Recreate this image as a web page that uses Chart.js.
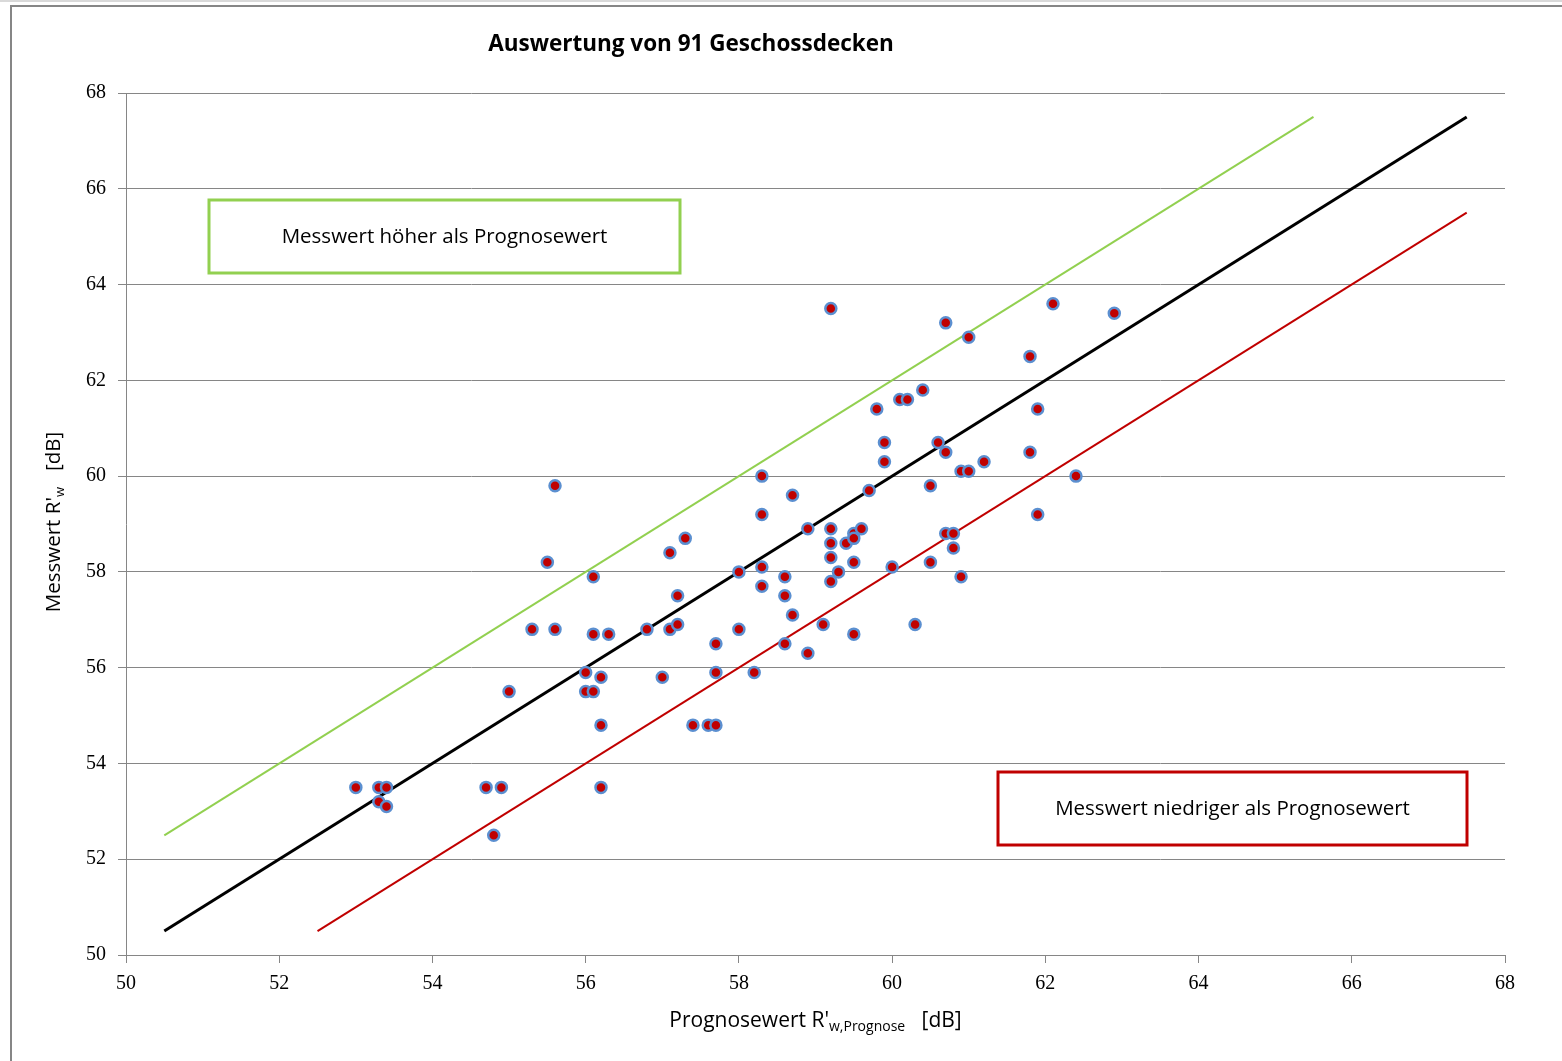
<!DOCTYPE html>
<html>
<head>
<meta charset="utf-8">
<script src="https://cdn.jsdelivr.net/npm/chart.js@4"></script>
<style>
  body { margin: 0; background: #fff; }
  canvas { display: block; }
</style>
</head>
<body>
<canvas id="myChart" width="1562" height="1061"></canvas>
<script>
// Prognosewert (x) und Messwert (y) je Decke
const prognose = [
  53.0, 53.3, 53.4, 53.3, 53.4, 54.7, 54.9, 54.8, 55.0, 55.3,
  55.5, 55.6, 55.6, 56.0, 56.0, 56.1, 56.1, 56.1, 56.2, 56.2,
  56.2, 56.3, 56.8, 57.0, 57.1, 57.1, 57.2, 57.2, 57.3, 57.4,
  57.6, 57.7, 57.7, 57.7, 58.0, 58.0, 58.2, 58.3, 58.3, 58.3,
  58.3, 58.6, 58.6, 58.6, 58.7, 58.7, 58.9, 58.9, 59.1, 59.2,
  59.2, 59.2, 59.2, 59.2, 59.3, 59.4, 59.5, 59.5, 59.6, 59.5,
  59.5, 59.7, 59.8, 59.9, 59.9, 60.0, 60.1, 60.2, 60.4, 60.5,
  60.5, 60.6, 60.7, 60.7, 60.7, 60.8, 60.8, 60.9, 61.0, 60.9,
  61.0, 61.2, 60.3, 61.8, 61.8, 61.9, 61.9, 62.1, 62.4, 62.9
];
const messwert = [
  53.5, 53.5, 53.5, 53.2, 53.1, 53.5, 53.5, 52.5, 55.5, 56.8,
  58.2, 59.8, 56.8, 55.9, 55.5, 55.5, 57.9, 56.7, 55.8, 54.8,
  53.5, 56.7, 56.8, 55.8, 58.4, 56.8, 57.5, 56.9, 58.7, 54.8,
  54.8, 54.8, 56.5, 55.9, 58.0, 56.8, 55.9, 60.0, 59.2, 58.1,
  57.7, 57.9, 57.5, 56.5, 59.6, 57.1, 58.9, 56.3, 56.9, 63.5,
  58.9, 58.6, 58.3, 57.8, 58.0, 58.6, 58.8, 58.7, 58.9, 58.2,
  56.7, 59.7, 61.4, 60.7, 60.3, 58.1, 61.6, 61.6, 61.8, 59.8,
  58.2, 60.7, 63.2, 60.5, 58.8, 58.8, 58.5, 60.1, 60.1, 57.9,
  62.9, 60.3, 56.9, 62.5, 60.5, 61.4, 59.2, 63.6, 60.0, 63.4
];

// Hilfslinien: Gleichheit, +2 dB, -2 dB
const mittelX = [50.5, 67.5], mittelY = [50.5, 67.5];
const oberX = [50.5, 65.5], oberY = [52.5, 67.5];
const unterX = [52.5, 67.5], unterY = [50.5, 65.5];

const yTicks = [50, 52, 54, 56, 58, 60, 62, 64, 66, 68];
const xTicks = [50, 52, 54, 56, 58, 60, 62, 64, 66, 68];

const toPoints = (xs, ys) => xs.map((x, i) => ({ x: x, y: ys[i] }));

const sansFont = '"Open Sans", Lato, sans-serif';
const tickFont = { family: '"Liberation Serif", serif', size: 20 };
const axisGray = '#868686';

// Text mit tiefgestelltem Teil zeichnen (für R'w)
function drawRich(ctx, parts, cx, cy) {
  let total = 0;
  parts.forEach(p => {
    ctx.font = p.font;
    p.w = ctx.measureText(p.text).width;
    total += p.w;
  });
  let x = cx - total / 2;
  parts.forEach(p => {
    ctx.font = p.font;
    ctx.fillText(p.text, x, cy + (p.dy || 0));
    x += p.w;
  });
}

const extras = {
  id: 'extras',
  beforeDraw(chart) {
    const ctx = chart.ctx;
    ctx.save();
    ctx.fillStyle = '#fff';
    ctx.fillRect(0, 0, chart.width, chart.height);
    ctx.strokeStyle = '#d9d9d9';
    ctx.lineWidth = 2;
    ctx.beginPath();
    ctx.moveTo(0, 1);
    ctx.lineTo(chart.width, 1);
    ctx.stroke();
    ctx.strokeStyle = axisGray;
    ctx.lineWidth = 2;
    ctx.strokeRect(11, 6, chart.width + 20, chart.height + 20);
    ctx.restore();
  },
  afterDraw(chart) {
    const ctx = chart.ctx;
    const area = chart.chartArea;
    ctx.save();
    ctx.fillStyle = '#000';
    ctx.textBaseline = 'middle';
    ctx.textAlign = 'left';

    // Titel
    ctx.font = 'bold 22.5px ' + sansFont;
    const title = 'Auswertung von 91 Geschossdecken';
    const tw = ctx.measureText(title).width;
    ctx.fillText(title, 691 - tw / 2, 45);

    // x-Achsentitel
    drawRich(ctx, [
      { text: "Prognosewert R'", font: '21px ' + sansFont },
      { text: 'w,Prognose', font: '14px ' + sansFont, dy: 6 },
      { text: '   [dB]', font: '21px ' + sansFont }
    ], (area.left + area.right) / 2, 1021);

    // y-Achsentitel
    ctx.save();
    ctx.translate(54, 522);
    ctx.rotate(-Math.PI / 2);
    drawRich(ctx, [
      { text: "Messwert R'", font: '20.5px ' + sansFont },
      { text: 'w', font: '13px ' + sansFont, dy: 6 },
      { text: '   [dB]', font: '20.5px ' + sansFont }
    ], 0, 0);
    ctx.restore();

    // Hinweiskästen
    const boxes = [
      { x: 209, y: 200, w: 471, h: 73, color: '#92D050', text: 'Messwert höher als Prognosewert' },
      { x: 998, y: 772, w: 469, h: 73, color: '#C00000', text: 'Messwert niedriger als Prognosewert' }
    ];
    boxes.forEach(b => {
      ctx.fillStyle = '#fff';
      ctx.fillRect(b.x, b.y, b.w, b.h);
      ctx.strokeStyle = b.color;
      ctx.lineWidth = 3;
      ctx.strokeRect(b.x, b.y, b.w, b.h);
      ctx.fillStyle = '#000';
      ctx.font = '20.5px ' + sansFont;
      const w = ctx.measureText(b.text).width;
      ctx.fillText(b.text, b.x + b.w / 2 - w / 2, b.y + b.h / 2 + 1);
    });
    ctx.restore();
  }
};

const ctx = document.getElementById('myChart');
const myChart = new Chart(ctx, {
  type: 'scatter',
  data: {
    datasets: [{
      label: 'Messungen',
      data: toPoints(prognose, messwert),
      backgroundColor: '#C00000',
      borderColor: '#5B8FD0',
      borderWidth: 2.5,
      pointRadius: 5.5,
      order: 0
    }, {
      label: 'Gleich',
      data: toPoints(mittelX, mittelY),
      showLine: true,
      borderColor: '#000',
      borderWidth: 3,
      pointRadius: 0,
      order: 1
    }, {
      label: '+2 dB',
      data: toPoints(oberX, oberY),
      showLine: true,
      borderColor: '#92D050',
      borderWidth: 2,
      pointRadius: 0,
      order: 2
    }, {
      label: '-2 dB',
      data: toPoints(unterX, unterY),
      showLine: true,
      borderColor: '#C00000',
      borderWidth: 2,
      pointRadius: 0,
      order: 3
    }]
  },
  options: {
    responsive: false,
    animation: false,
    layout: {
      padding: { top: 93, right: 57, bottom: 0, left: 0 }
    },
    scales: {
      x: {
        type: 'linear',
        min: 50,
        max: 68,
        afterBuildTicks: s => { s.ticks = xTicks.map(v => ({ value: v })); },
        afterFit: s => { s.height = 106; },
        ticks: { font: tickFont, color: '#000', padding: 9 },
        grid: { drawOnChartArea: false, tickLength: 8, color: axisGray },
        border: { color: axisGray, width: 1 }
      },
      y: {
        type: 'linear',
        min: 50,
        max: 68,
        afterBuildTicks: s => { s.ticks = yTicks.map(v => ({ value: v })); },
        afterFit: s => { s.width = 126; },
        ticks: { font: tickFont, color: '#000', padding: 12 },
        grid: { tickLength: 8, color: axisGray },
        border: { color: axisGray, width: 1 }
      }
    },
    plugins: {
      legend: { display: false },
      tooltip: { enabled: false }
    }
  },
  plugins: [extras]
});
</script>
</body>
</html>
